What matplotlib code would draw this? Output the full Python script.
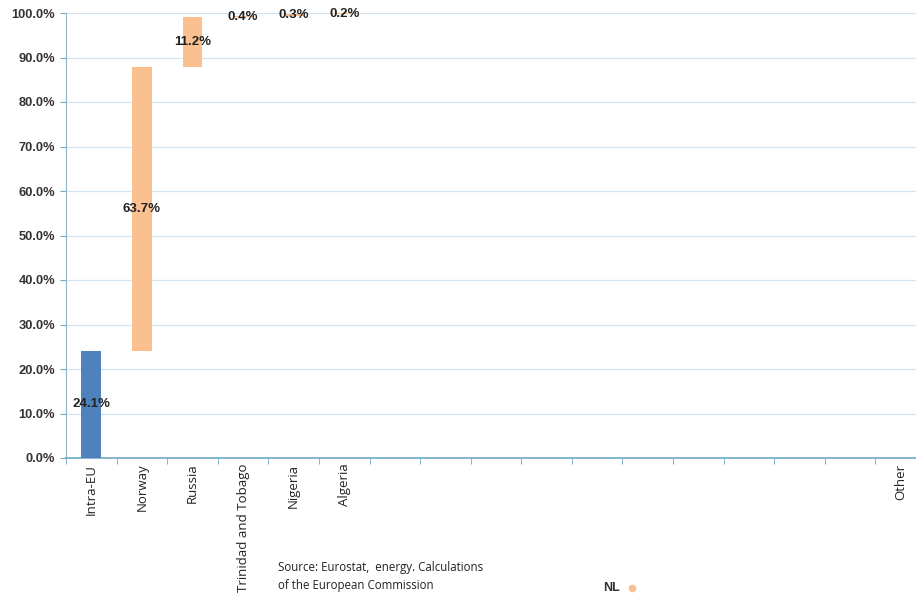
import matplotlib.pyplot as plt
import numpy as np

categories = ['Intra-EU', 'Norway', 'Russia', 'Trinidad and Tobago', 'Nigeria', 'Algeria',
              '', '', '', '', '', '', '', '', '', '', 'Other']
shares = [24.1, 63.7, 11.2, 0.4, 0.3, 0.2, 0, 0, 0, 0, 0, 0, 0, 0, 0, 0, 0.1]
labels = ['24.1%', '63.7%', '11.2%', '0.4%', '0.3%', '0.2%',
          '', '', '', '', '', '', '', '', '', '', '']
bar_colors = ['#4f81bd'] + ['#fac090'] * 16

axis_col = '#6fa8c8'
grid_col = '#d3e4f3'

fig = plt.figure(figsize=(9.16, 6.01), dpi=100)
ax = fig.add_axes([66 / 916, 1 - 458 / 601, 860 / 916, 445 / 601])

x = np.arange(len(categories))
vals = np.array(shares)
bottoms = np.concatenate([[0], np.cumsum(vals)[:-1]])
ax.bar(x, vals, bottom=bottoms, width=0.39, color=bar_colors, zorder=3)

for xi, b, v, lab in zip(x, bottoms, vals, labels):
    if lab:
        ax.text(xi, b + v / 2, lab, ha='center', va='center', fontsize=9.5,
                fontweight='bold', color='#222222', family='Liberation Sans', zorder=4)

ax.set_xlim(-0.5, len(categories) - 0.5)
ax.set_ylim(0, 100)
ax.set_yticks(np.arange(0, 101, 10))
ax.set_yticklabels(['%.1f%%' % v for v in np.arange(0, 101, 10)],
                   fontsize=9.3, fontweight='bold', color='#333333', family='Liberation Sans')
ax.yaxis.grid(True, color=grid_col, linewidth=0.9, zorder=0)
ax.set_axisbelow(True)

ax.set_xticks(x)
ax.set_xticklabels(categories, rotation=90, fontsize=9.5, color='#222222', family='Open Sans',
                   va='top')
ax.set_xticks(np.arange(-0.5, len(categories), 1), minor=True)
ax.tick_params(axis='x', which='major', length=0, pad=4)
ax.tick_params(axis='x', which='minor', length=4, color=axis_col, direction='out')
ax.tick_params(axis='y', length=4, color=axis_col, pad=4)

for s in ['top', 'right']:
    ax.spines[s].set_visible(False)
ax.spines['left'].set_color('#8fb4c8')
ax.spines['bottom'].set_color(axis_col)
ax.spines['bottom'].set_linewidth(1.2)

fig.text(278 / 916, 1 - 568 / 601, 'Source: Eurostat,  energy. Calculations',
         fontsize=8.3, family='Open Sans', va='center', color='#222222')
fig.text(278 / 916, 1 - 585 / 601, 'of the European Commission',
         fontsize=8.3, family='Open Sans', va='center', color='#222222')

fig.text(603 / 916, 1 - 588 / 601, 'NL', fontsize=9, fontweight='bold', family='Liberation Sans',
         va='center', ha='left', color='#333333')
fig.lines.append(plt.Line2D([632 / 916], [1 - 588 / 601], marker='o', markersize=4.5,
                            color='#fac090', transform=fig.transFigure))

fig.savefig('out.png', dpi=100)
